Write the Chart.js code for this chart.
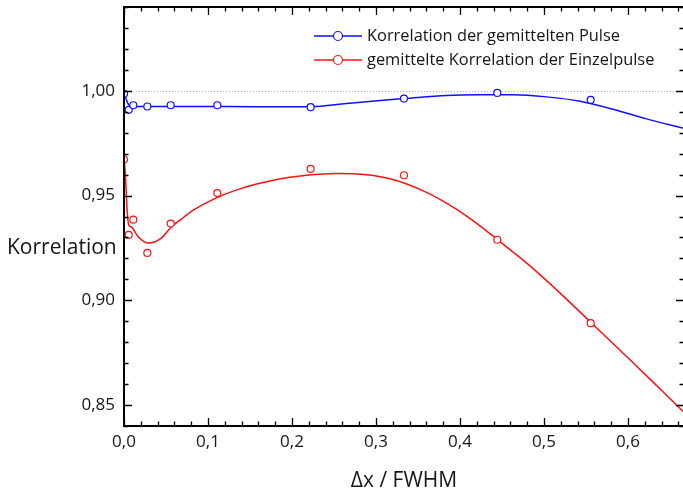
<!DOCTYPE html>
<html><head><meta charset="utf-8">
<script src="https://cdn.jsdelivr.net/npm/chart.js@4.4.1/dist/chart.umd.min.js"></script>
<style>
html,body{margin:0;padding:0;background:#fff;overflow:hidden;width:683px;height:492px}
#wrap{position:relative;width:690px;height:492px}
</style>
</head><body>
<div id="wrap"><canvas id="c" width="690" height="492"></canvas></div>
<script>
// ---- data ----
const xValues = [0, 0.0056, 0.0111, 0.0278, 0.0556, 0.1111, 0.2222, 0.3333, 0.4444, 0.5556];
const pulseCorrelation = [0.9986, 0.9909, 0.9931, 0.9925, 0.9931, 0.9931, 0.9922, 0.9963, 0.9990, 0.9957];
const singleCorrelation = [0.9672, 0.9312, 0.9385, 0.9226, 0.9366, 0.9512, 0.9627, 0.9597, 0.9289, 0.8891];

// fitted curves as drawn in the reference
const pulseFitX = [0, 0.002, 0.004, 0.006, 0.009, 0.02, 0.05, 0.1, 0.15, 0.186, 0.222, 0.265, 0.305, 0.334, 0.384, 0.424, 0.464, 0.503, 0.543, 0.583, 0.622, 0.6667];
const pulseFitY = [0.9995, 0.9968, 0.9945, 0.9932, 0.9926, 0.9925, 0.9925, 0.9925, 0.9924, 0.9924, 0.9924, 0.9939, 0.9954, 0.9963, 0.9978, 0.9981, 0.9981, 0.9971, 0.9950, 0.9911, 0.9866, 0.9821];
const singleFitX = [0, 0.0015, 0.0027, 0.0039, 0.0056, 0.0087, 0.0167, 0.0286, 0.0444, 0.0563, 0.0722, 0.0786, 0.0984, 0.1182, 0.1381, 0.1579, 0.1778, 0.1976, 0.2175, 0.2373, 0.2532, 0.277, 0.2968, 0.3167, 0.3365, 0.3563, 0.3762, 0.396, 0.4159, 0.4357, 0.4456, 0.4833, 0.523, 0.5567, 0.6024, 0.642, 0.6667];
const singleFitY = [0.968, 0.961, 0.9514, 0.942, 0.936, 0.935, 0.9305, 0.9273, 0.9297, 0.935, 0.940, 0.942, 0.9466, 0.9503, 0.9532, 0.9555, 0.9573, 0.9587, 0.9597, 0.9603, 0.9605, 0.9603, 0.9596, 0.958, 0.9555, 0.9522, 0.9482, 0.9434, 0.9379, 0.9318, 0.9286, 0.9164, 0.902, 0.8891, 0.8716, 0.8562, 0.8466];

const seriesNames = ['Korrelation der gemittelten Pulse', 'gemittelte Korrelation der Einzelpulse'];
const xTickValues = [0, 0.1, 0.2, 0.3, 0.4, 0.5, 0.6];
const yTickValues = [0.85, 0.90, 0.95, 1.00];
const xTitle = 'Δx / FWHM';
const yTitle = 'Korrelation';
const refLine = 1.00;

// ---- styles ----
const FONT = '"Open Sans"';
const TXT = '#161616';
const BLUE = '#1010ff';
const RED = '#ff1010';

const zip = (xs, ys) => xs.map((x, i) => ({x, y: ys[i]}));

const framePlugin = {
  id: 'frame',
  beforeDatasetsDraw(chart) {
    const {ctx, chartArea: a, scales: {y}} = chart;
    const py = y.getPixelForValue(refLine);
    ctx.save();
    ctx.strokeStyle = '#b0b0b0';
    ctx.lineWidth = 1;
    ctx.setLineDash([1, 2]);
    ctx.beginPath();
    ctx.moveTo(a.left, Math.round(py) + 0.5);
    ctx.lineTo(a.right, Math.round(py) + 0.5);
    ctx.stroke();
    ctx.restore();
  },
  afterDraw(chart) {
    const {ctx, chartArea: a, scales: {x, y}} = chart;
    ctx.save();
    ctx.strokeStyle = '#000';
    ctx.lineWidth = 1.3;
    const xe = x.max;
    for (let i = 0; i * 0.02 <= xe + 1e-9; i++) {
      const major = i % 5 === 0;
      const len = major ? 8 : 4.5;
      const px = Math.round(x.getPixelForValue(i * 0.02)) + 0.5;
      ctx.beginPath();
      ctx.moveTo(px, a.bottom); ctx.lineTo(px, a.bottom - len);
      ctx.moveTo(px, a.top); ctx.lineTo(px, a.top + len);
      ctx.stroke();
    }
    for (let i = 84; i <= 104; i++) {
      const major = i % 5 === 0;
      const len = major ? 8 : 4.5;
      const py = Math.round(y.getPixelForValue(i / 100)) + 0.5;
      ctx.beginPath();
      ctx.moveTo(a.left, py); ctx.lineTo(a.left + len, py);
      ctx.moveTo(a.right, py); ctx.lineTo(a.right - len, py);
      ctx.stroke();
    }
    ctx.lineWidth = 2;
    ctx.beginPath();
    ctx.moveTo(a.right, a.top); ctx.lineTo(a.left, a.top);
    ctx.lineTo(a.left, a.bottom); ctx.lineTo(a.right, a.bottom); ctx.lineTo(a.right, a.top);
    ctx.stroke();

    // horizontal y title
    ctx.fillStyle = TXT;
    ctx.font = '21px ' + FONT;
    ctx.textAlign = 'left';
    ctx.textBaseline = 'middle';
    ctx.fillText(yTitle, 7, 248);

    // legend
    const ds = [chart.data.datasets[0], chart.data.datasets[1]];
    const rows = [36, 60];
    ctx.font = '16.4px ' + FONT;
    ds.forEach((d, i) => {
      const ly = rows[i];
      ctx.strokeStyle = d.borderColor;
      ctx.lineWidth = 1.5;
      ctx.beginPath();
      ctx.moveTo(314, ly); ctx.lineTo(362, ly);
      ctx.stroke();
      ctx.beginPath();
      ctx.arc(338, ly, 4.5, 0, Math.PI * 2);
      ctx.fillStyle = '#fff';
      ctx.fill();
      ctx.lineWidth = 1.2;
      ctx.stroke();
      ctx.fillStyle = TXT;
      ctx.fillText(seriesNames[i], 367, ly);
    });
    ctx.restore();
  }
};

new Chart(document.getElementById('c'), {
  type: 'scatter',
  data: {
    datasets: [
      {label: seriesNames[0], data: zip(xValues, pulseCorrelation), borderColor: BLUE, backgroundColor: '#fff',
       pointRadius: 3.5, pointBorderWidth: 1.2, showLine: false},
      {label: seriesNames[1], data: zip(xValues, singleCorrelation), borderColor: RED, backgroundColor: '#fff',
       pointRadius: 3.5, pointBorderWidth: 1.2, showLine: false},
      {label: 'fit1', data: zip(pulseFitX, pulseFitY), borderColor: BLUE, borderWidth: 1.5, pointRadius: 0,
       showLine: true, cubicInterpolationMode: 'monotone'},
      {label: 'fit2', data: zip(singleFitX, singleFitY), borderColor: RED, borderWidth: 1.5, pointRadius: 0,
       showLine: true, cubicInterpolationMode: 'monotone'}
    ]
  },
  options: {
    responsive: false,
    animation: false,
    events: [],
    layout: {padding: {left: 0, top: 7, right: 6, bottom: 0}},
    plugins: {legend: {display: false}, tooltip: {enabled: false}},
    scales: {
      x: {
        type: 'linear', min: 0, max: 0.6667,
        afterBuildTicks: s => { s.ticks = xTickValues.map(v => ({value: v})); },
        afterFit: s => { s.height = 66; s.paddingLeft = 0; s.paddingRight = 0; },
        grid: {display: false, drawTicks: false},
        border: {display: false},
        ticks: {color: TXT, font: {family: FONT, size: 17}, padding: 6,
                callback: v => v.toFixed(1).replace('.', ','), maxRotation: 0},
        title: {display: true, text: xTitle, color: TXT, font: {family: FONT, size: 21, lineHeight: 1.0}, padding: {top: 0, bottom: 0}}
      },
      y: {
        type: 'linear', min: 0.84, max: 1.04,
        afterBuildTicks: s => { s.ticks = yTickValues.map(v => ({value: v})); },
        afterFit: s => { s.width = 124; s.paddingTop = 0; s.paddingBottom = 0; },
        grid: {display: false, drawTicks: false},
        border: {display: false},
        ticks: {color: TXT, font: {family: FONT, size: 17}, padding: 9,
                callback: v => v.toFixed(2).replace('.', ',')}
      }
    }
  },
  plugins: [framePlugin]
});
</script>
</body></html>
